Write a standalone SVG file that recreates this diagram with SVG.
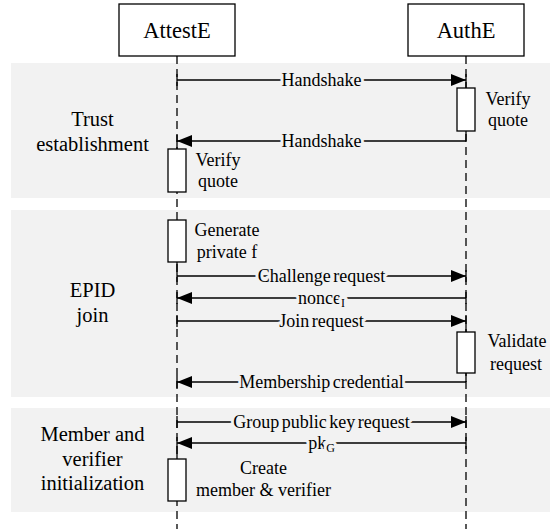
<svg xmlns="http://www.w3.org/2000/svg" width="550" height="529" viewBox="0 0 550 529">
<style>
.band{fill:#f2f2f2;stroke:none}
.head{fill:#fff;stroke:#000;stroke-width:1.3}
.act{fill:#fff;stroke:#000;stroke-width:1.3}
.life{stroke:#000;stroke-width:1.3;stroke-dasharray:8,5;fill:none}
.msg{stroke:#000;stroke-width:1.3;fill:none}
.tick{stroke:#000;stroke-width:1.3}
.ht,.bt,.nt,.ml{font-family:'Liberation Serif','Times New Roman',serif;text-anchor:middle;fill:#000}
.ht{font-size:22.5px}
.bt{font-size:20.5px}
.nt{font-size:18px}
.ml{font-size:18px;word-spacing:-2px;stroke:#f2f2f2;stroke-width:6;paint-order:stroke;stroke-linejoin:round}
</style>
<defs>
<marker id="ah" markerUnits="userSpaceOnUse" markerWidth="15" markerHeight="12" refX="15" refY="6" orient="auto">
<path d="M0,0 L15,6 L0,12 z" fill="#000"/>
</marker>
</defs>

<g id="band-trust">
<rect class="band" x="11" y="63" width="539" height="135"/>
<text class="bt" x="92.5" y="126">Trust</text>
<text class="bt" x="92.5" y="151">establishment</text>
</g>
<g id="band-epid">
<rect class="band" x="11" y="210" width="539" height="187"/>
<text class="bt" x="92.5" y="297">EPID</text>
<text class="bt" x="92.5" y="322">join</text>
</g>
<g id="band-init">
<rect class="band" x="11" y="408" width="539" height="104"/>
<text class="bt" x="92.5" y="441">Member and</text>
<text class="bt" x="92.5" y="466">verifier</text>
<text class="bt" x="92.5" y="490">initialization</text>
</g>

<g id="attestE">
<line class="life" x1="177" y1="56" x2="177" y2="529"/>
<rect class="head" x="119" y="4" width="116" height="52"/>
<text class="ht" x="177" y="38">AttestE</text>
</g>
<g id="authE">
<line class="life" x1="466" y1="56" x2="466" y2="529"/>
<rect class="head" x="408" y="4" width="116" height="52"/>
<text class="ht" x="466" y="38">AuthE</text>
</g>

<g id="connectors">
<line class="msg" x1="177" y1="80" x2="466" y2="80" marker-end="url(#ah)"/>
<line class="tick" x1="177" y1="74" x2="177" y2="86"/>
<line class="tick" x1="466" y1="74" x2="466" y2="88"/>
<text class="ml" x="321.5" y="85.5">Handshake</text>

<line class="msg" x1="466" y1="141" x2="177" y2="141" marker-end="url(#ah)"/>
<line class="tick" x1="466" y1="131" x2="466" y2="141"/>
<line class="tick" x1="177" y1="135" x2="177" y2="149"/>
<text class="ml" x="321.5" y="146.5">Handshake</text>

<line class="msg" x1="177" y1="276" x2="466" y2="276" marker-end="url(#ah)"/>
<line class="tick" x1="177" y1="262" x2="177" y2="282"/>
<line class="tick" x1="466" y1="270" x2="466" y2="282"/>
<text class="ml" x="321.5" y="282">Challenge request</text>

<line class="msg" x1="466" y1="298" x2="177" y2="298" marker-end="url(#ah)"/>
<line class="tick" x1="466" y1="292" x2="466" y2="304"/>
<line class="tick" x1="177" y1="292" x2="177" y2="304"/>
<text class="ml" x="321.5" y="303.5">nonce<tspan font-size="12" dy="3">I</tspan></text>

<line class="msg" x1="177" y1="321" x2="466" y2="321" marker-end="url(#ah)"/>
<line class="tick" x1="177" y1="315" x2="177" y2="327"/>
<line class="tick" x1="466" y1="315" x2="466" y2="332"/>
<text class="ml" x="321.5" y="326.5">Join request</text>

<line class="msg" x1="466" y1="382" x2="177" y2="382" marker-end="url(#ah)"/>
<line class="tick" x1="466" y1="373" x2="466" y2="382"/>
<line class="tick" x1="177" y1="376" x2="177" y2="388"/>
<text class="ml" x="321.5" y="387.5">Membership credential</text>

<line class="msg" x1="177" y1="422" x2="466" y2="422" marker-end="url(#ah)"/>
<line class="tick" x1="177" y1="416" x2="177" y2="428"/>
<line class="tick" x1="466" y1="416" x2="466" y2="428"/>
<text class="ml" x="321.5" y="427.5">Group public key request</text>

<line class="msg" x1="466" y1="443" x2="177" y2="443" marker-end="url(#ah)"/>
<line class="tick" x1="466" y1="437" x2="466" y2="449"/>
<line class="tick" x1="177" y1="437" x2="177" y2="459"/>
<text class="ml" x="321.5" y="448.5">pk<tspan font-size="12" dy="3">G</tspan></text>
</g>

<g id="act-auth-verify">
<rect class="act" x="457" y="88" width="18" height="43"/>
<text class="nt" x="508" y="105">Verify</text>
<text class="nt" x="508" y="126">quote</text>
</g>
<g id="act-attest-verify">
<rect class="act" x="168" y="149" width="18" height="43"/>
<text class="nt" x="218" y="166">Verify</text>
<text class="nt" x="218" y="187">quote</text>
</g>
<g id="act-generate">
<rect class="act" x="168" y="220" width="18" height="42"/>
<text class="nt" x="227" y="236">Generate</text>
<text class="nt" x="227" y="258">private f</text>
</g>
<g id="act-validate">
<rect class="act" x="457" y="332" width="18" height="41"/>
<text class="nt" x="517" y="347">Validate</text>
<text class="nt" x="516" y="370">request</text>
</g>
<g id="act-create">
<rect class="act" x="168" y="459" width="18" height="42"/>
<text class="nt" x="263.5" y="474">Create</text>
<text class="nt" x="263.5" y="496">member &amp; verifier</text>
</g>
</svg>
